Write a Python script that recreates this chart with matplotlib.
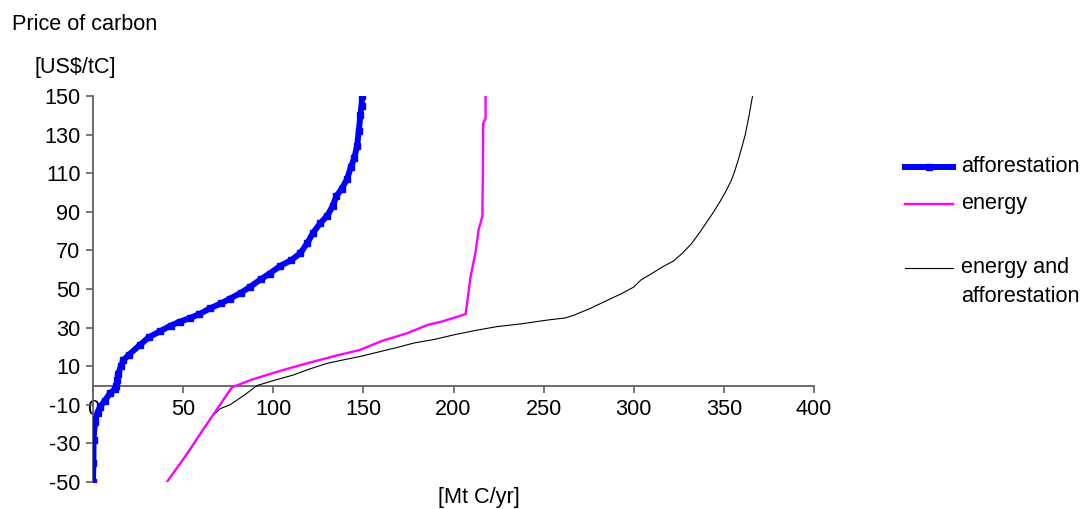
import matplotlib
matplotlib.use("Agg")
import matplotlib.pyplot as plt
from matplotlib.lines import Line2D

plt.rcParams['font.family'] = ['Liberation Sans', 'DejaVu Sans']
plt.rcParams['axes.unicode_minus'] = False

# supply curves: emission reduction [Mt C/yr] vs carbon price [US$/tC]
afforestation_x = [0, 0.2, 0.3, 1.1, 2.5, 3.9, 6.5, 9.4, 12, 13, 13.5, 14, 15.5, 16.8, 20, 26, 31, 37,
                   43, 48, 54, 59, 65, 71, 76, 82, 87, 93, 98, 104, 110, 115, 119, 122, 126, 130,
                   133, 135, 138, 141, 143, 145, 146.5, 147.5, 148.3, 149, 149.3]
afforestation_y = [-50, -40, -28, -19, -14, -11, -8, -4, -2, 0, 3, 6, 10, 13, 16, 21, 25, 28,
                   31, 33, 35, 37, 40, 42.5, 45, 48, 51, 55, 58, 62, 65, 68.5, 74, 79, 84, 88,
                   93, 98, 102, 107, 113, 118, 124, 132, 140, 145, 150]

energy_x = [41, 51, 61, 69, 77, 88, 100, 111, 122, 135, 148, 160, 174, 186, 193, 200, 206.7,
            207.6, 209.4, 212.2, 214, 216, 216.3, 216.5, 217.8, 217.8]
energy_y = [-50, -37, -23, -12, -1, 3, 6.5, 9.5, 12.3, 15.5, 18.4, 23, 27, 31.5, 33, 35, 37,
            43, 56, 69, 81, 87.5, 110, 135.9, 138.4, 150]

combined_x = [41, 51, 61, 66, 70.6, 76, 80, 85.4, 91, 100, 111, 120, 130, 140, 148, 159, 170,
              178, 190, 200, 212, 224, 238, 252, 262, 267, 276, 285, 293, 300, 304, 310, 316,
              322, 327, 332, 336, 340, 344, 348, 351, 354, 356, 358, 360, 362, 364, 365.9]
combined_y = [-50, -37, -23, -16, -12, -10, -7.5, -4, 0, 2.5, 5.4, 8.5, 11.5, 13.5, 15, 17.5, 20,
              22, 24, 26.2, 28.5, 30.5, 32, 33.9, 35, 36.5, 40, 44, 47.5, 51, 54.7, 58, 61.5,
              64.5, 68.5, 73.5, 78.5, 84, 89.5, 95.5, 100.5, 106, 111, 117, 123.5, 130.5, 140, 150]

series_names = ['afforestation', 'energy', 'energy and\nafforestation']
x_ticks = [0, 50, 100, 150, 200, 250, 300, 350, 400]
y_ticks = [-50, -30, -10, 10, 30, 50, 70, 90, 110, 130, 150]

FS = 15.6
AXIS_COLOR = '#606060'

fig = plt.figure(figsize=(10.87, 5.09), dpi=100)
ax = fig.add_axes([93 / 1087, 1 - 482 / 509, (814 - 93) / 1087, (482 - 96) / 509])

styles = [
    dict(color='#0000ff', lw=4.3, marker='s', markersize=4.5, solid_capstyle='butt'),
    dict(color='#ff00ff', lw=1.7),
    dict(color='black', lw=0.8),
]
data = [(afforestation_x, afforestation_y), (energy_x, energy_y), (combined_x, combined_y)]
# draw combined first so the coloured curves sit on top
for i in [2, 1, 0]:
    xs, ys = data[i]
    ax.plot(xs, ys, zorder=3 + (2 - i), **styles[i])

ax.set_xlim(0, 400)
ax.set_ylim(-50, 150)
ax.set_xticks(x_ticks)
ax.set_yticks(y_ticks)
ax.tick_params(labelsize=FS, colors=AXIS_COLOR, labelcolor='black', length=5, width=1.2)
ax.tick_params(axis='x', pad=5)
ax.tick_params(axis='y', pad=4)
ax.spines['bottom'].set_position(('data', 0))
ax.spines['top'].set_visible(False)
ax.spines['right'].set_visible(False)
for s in ['bottom', 'left']:
    ax.spines[s].set_color(AXIS_COLOR)
    ax.spines[s].set_linewidth(1.3)

fig.text(12 / 1087, 1 - 25 / 509, 'Price of carbon', fontsize=FS, va='center', ha='left')
fig.text(35 / 1087, 1 - 67 / 509, '[US$/tC]', fontsize=FS, va='center', ha='left')
fig.text(479 / 1087, 1 - 497 / 509, '[Mt C/yr]', fontsize=FS, va='center', ha='center')

# legend drawn by hand so the handle lines up with the first text line
legend_y = [167, 204, 268]
line_step = 28
for i, name in enumerate(series_names):
    y = 1 - legend_y[i] / 509
    st = styles[i]
    fig.add_artist(Line2D([905 / 1087, 953 / 1087], [y, y], color=st['color'], lw=st['lw'],
                          transform=fig.transFigure))
    if i == 0:
        fig.add_artist(Line2D([929 / 1087], [y], color=st['color'], marker='s', markersize=4.5,
                              transform=fig.transFigure))
    for k, part in enumerate(name.split('\n')):
        fig.text(961 / 1087, 1 - (legend_y[i] + k * line_step) / 509, part,
                 fontsize=FS, va='center', ha='left')

fig.savefig('out.png', dpi=100)
